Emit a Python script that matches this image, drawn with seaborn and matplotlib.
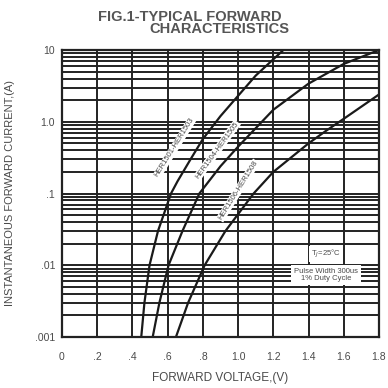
import matplotlib
matplotlib.use("Agg")
import matplotlib.pyplot as plt
from matplotlib.ticker import LogLocator, FixedLocator, NullFormatter
import numpy as np
import pandas as pd
import seaborn as sns

# values (forward voltage V, forward current A)
volt_1 = [0.45, 0.468, 0.497, 0.545, 0.619, 0.656, 0.73, 0.8, 0.9, 1.0, 1.1, 1.257]
amps_1 = [0.001, 0.003, 0.01, 0.03, 0.1, 0.148, 0.3, 0.575, 1.2, 2.3, 4.4, 10]
volt_2 = [0.515, 0.553, 0.605, 0.684, 0.78, 0.9, 1.0, 1.2, 1.4, 1.6, 1.8]
amps_2 = [0.001, 0.003, 0.01, 0.03, 0.1, 0.24, 0.45, 1.47, 3.4, 6.4, 10]
volt_3 = [0.647, 0.716, 0.81, 0.928, 1.088, 1.2, 1.4, 1.5, 1.6, 1.8]
amps_3 = [0.001, 0.003, 0.01, 0.03, 0.1, 0.2, 0.5, 0.75, 1.1, 2.4]

curve_names = ["HER1501-HER1503", "HER1504-HER1505", "HER1506-HER1508"]

x_ticks = [0, 0.2, 0.4, 0.6, 0.8, 1.0, 1.2, 1.4, 1.6, 1.8]
x_ticklabels = ["0", ".2", ".4", ".6", ".8", "1.0", "1.2", "1.4", "1.6", "1.8"]
y_ticks = [0.001, 0.01, 0.1, 1, 10]
y_ticklabels = [".001", ".01", ".1", "1.0", "10"]

df = pd.concat([
    pd.DataFrame({"V": volt_1, "I": amps_1, "curve": curve_names[0]}),
    pd.DataFrame({"V": volt_2, "I": amps_2, "curve": curve_names[1]}),
    pd.DataFrame({"V": volt_3, "I": amps_3, "curve": curve_names[2]}),
])

sns.set_style("white")
plt.rcParams["font.family"] = ["Liberation Sans", "DejaVu Sans"]

fig = plt.figure(figsize=(3.88, 3.88), dpi=100)
ax = fig.add_axes([62/388, 51/388, 317/388, 287/388])

grid_col = "#222222"
sns.lineplot(data=df, x="V", y="I", units="curve", estimator=None, sort=False,
             color="#1a1a1a", lw=1.6, ax=ax, legend=False)
for ln in ax.lines:
    ln.set_solid_joinstyle("round")

ax.set_yscale("log")
ax.set_xlim(0, 1.8)
ax.set_ylim(0.001, 10)

ax.xaxis.set_major_locator(FixedLocator(x_ticks))
ax.set_xticklabels(x_ticklabels)
ax.yaxis.set_major_locator(FixedLocator(y_ticks))
ax.set_yticklabels(y_ticklabels)
ax.yaxis.set_minor_locator(LogLocator(base=10, subs=np.arange(2, 10)))
ax.yaxis.set_minor_formatter(NullFormatter())

ax.grid(True, which="both", axis="both", color=grid_col, lw=1.4)
ax.set_axisbelow(True)
for s in ax.spines.values():
    s.set_color(grid_col)
    s.set_linewidth(1.6)

txt_col = "#4a4a4a"
ax.tick_params(axis="both", which="both", length=0, labelsize=7.5, colors=txt_col)
ax.tick_params(axis="x", pad=11)
ax.tick_params(axis="y", pad=5)

ax.set_xlabel("FORWARD VOLTAGE,(V)", fontsize=8.5, color=txt_col, labelpad=7)
ax.set_ylabel("INSTANTANEOUS FORWARD CURRENT,(A)", fontsize=8, color=txt_col, labelpad=14)

fig.text(0.49, 0.957, "FIG.1-TYPICAL FORWARD", ha="center", va="center",
         fontsize=10.5, fontweight="bold", color="#555555")
fig.text(0.565, 0.924, "CHARACTERISTICS", ha="center", va="center",
         fontsize=10.5, fontweight="bold", color="#555555")

# labels along curves
lbl_box = dict(boxstyle="square,pad=0.1", fc="white", ec="none")
ax.text(0.64, 0.44, curve_names[0], rotation=58, fontsize=5.5, color=txt_col,
        ha="center", va="center", bbox=lbl_box)
ax.text(0.88, 0.40, curve_names[1], rotation=54, fontsize=5.5, color=txt_col,
        ha="center", va="center", bbox=lbl_box)
ax.text(1.0, 0.11, curve_names[2], rotation=58, fontsize=5.5, color=txt_col,
        ha="center", va="center", bbox=lbl_box)

# test condition notes
note_box = dict(boxstyle="square,pad=0.25", fc="white", ec="none")
ax.text(0.833, 0.289, "T$_J$=25°C", transform=ax.transAxes, fontsize=5.5,
        color=txt_col, ha="center", va="center", bbox=note_box)
ax.text(0.833, 0.216, "Pulse Width 300us\n1% Duty Cycle", transform=ax.transAxes,
        fontsize=5.5, color=txt_col, ha="center", va="center",
        linespacing=1.1, bbox=dict(boxstyle="square,pad=0.4", fc="white", ec="none"))

fig.savefig("out.png", dpi=100, facecolor="white")
